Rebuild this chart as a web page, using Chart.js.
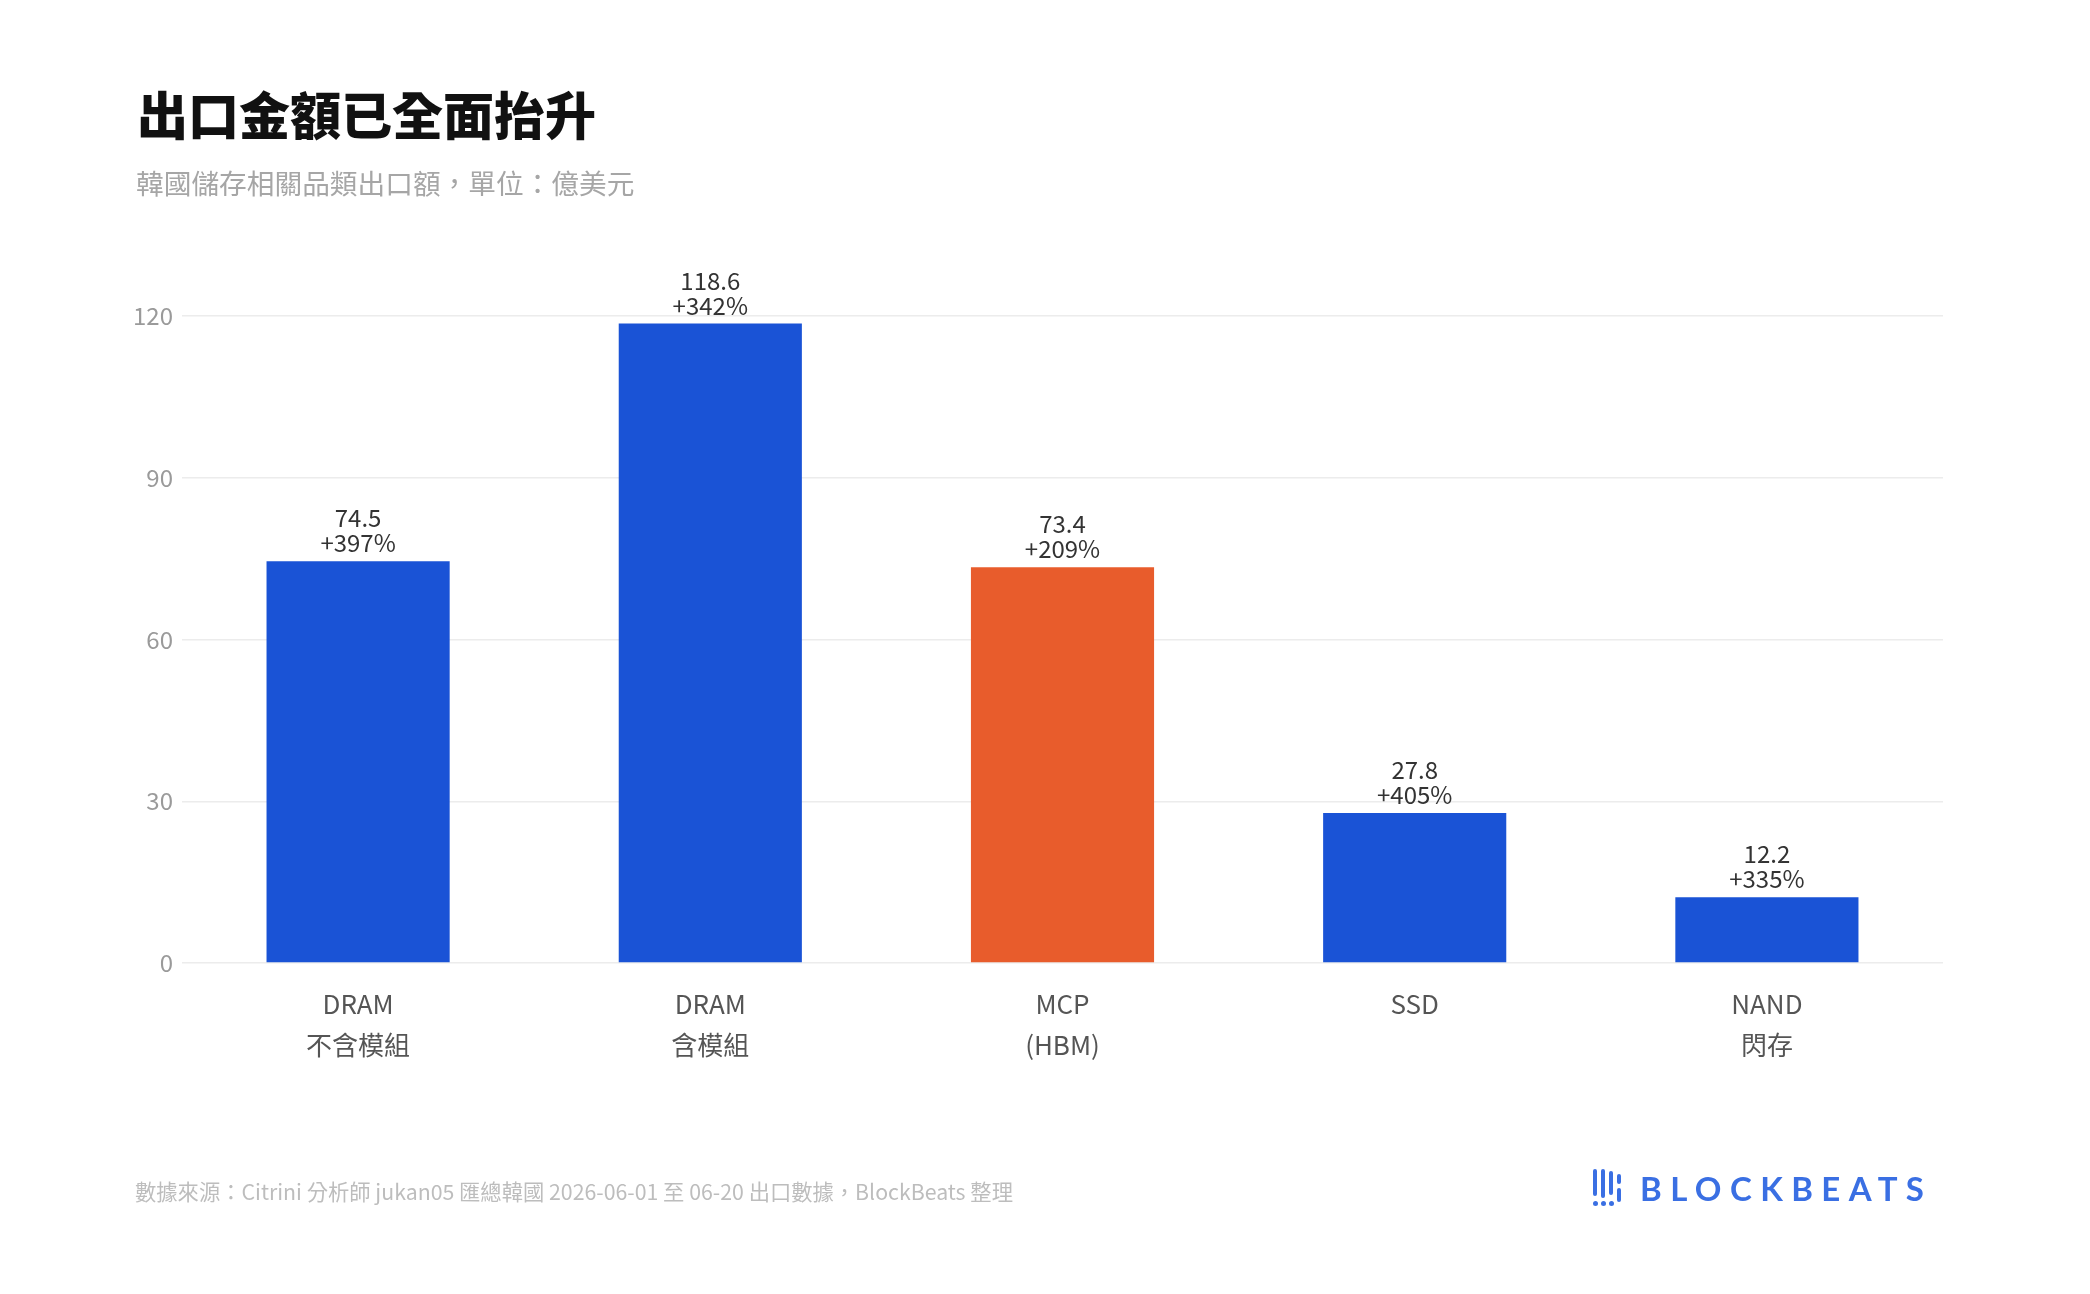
<!DOCTYPE html>
<html><head><meta charset="utf-8">
<script src="https://cdn.jsdelivr.net/npm/chart.js@4.4.1/dist/chart.umd.min.js"></script>
<style>
html,body{margin:0;padding:0;background:#fff;width:2090px;height:1294px;overflow:hidden;font-family:"Noto Sans CJK TC","Noto Sans",sans-serif;}
#cv{position:absolute;left:0;top:0;width:2090px;height:1294px;}
.txt{position:absolute;white-space:nowrap;z-index:2;}
#title{left:137px;top:77px;font-size:51px;line-height:72px;font-weight:900;color:#111;}
#subtitle{left:136px;top:164px;font-size:27.7px;line-height:36px;color:#a6a6a6;}
#footer{left:135px;top:1177px;font-size:21.3px;line-height:28px;color:#bdbdbd;}
#logo{position:absolute;left:1592px;top:1166px;width:360px;height:44px;z-index:2;}
#logo .bar{position:absolute;background:#3a6fe3;border-radius:2px;width:4px;}
#logo .dot{position:absolute;background:#3a6fe3;border-radius:50%;width:5px;height:5px;}
#logoText{position:absolute;left:48px;top:0;font-family:Lato,"DejaVu Sans",sans-serif;font-weight:700;font-size:33px;line-height:44px;letter-spacing:8.4px;color:#3a6fe3;}
</style></head>
<body>
<div id="cv"><canvas id="chart" width="2090" height="1294"></canvas></div>
<div class="txt" id="title">出口金額已全面抬升</div>
<div class="txt" id="subtitle">韓國儲存相關品類出口額，單位：億美元</div>
<div class="txt" id="footer">數據來源：Citrini 分析師 jukan05 匯總韓國 2026-06-01 至 06-20 出口數據，BlockBeats 整理</div>
<div id="logo">
  <div class="bar" style="left:1px;top:3px;height:27px"></div><div class="dot" style="left:1px;top:35px"></div>
  <div class="bar" style="left:9px;top:3px;height:29px"></div><div class="dot" style="left:9px;top:35px"></div>
  <div class="bar" style="left:17px;top:5px;height:24px"></div><div class="dot" style="left:17px;top:35px"></div>
  <div class="bar" style="left:25px;top:8px;height:10px"></div><div class="bar" style="left:25px;top:22px;height:14px"></div>
  <div id="logoText">BLOCKBEATS</div>
</div>
<script>
const categories = [['DRAM','不含模組'],['DRAM','含模組'],['MCP','(HBM)'],['SSD'],['NAND','閃存']];
const exportValues = [74.5,118.6,73.4,27.8,12.2];
const growthLabels = ['+397%','+342%','+209%','+405%','+335%'];
const highlightIndex = 2;
const yMin = 0, yMax = 120, yStep = 30;

const BLUE = '#1a53d6', ORANGE = '#e85c2c';
const FONT = '"Noto Sans CJK TC","Noto Sans",sans-serif';

const labelPlugin = {
  id:'barLabels',
  afterDatasetsDraw(chart){
    const ctx = chart.ctx;
    const meta = chart.getDatasetMeta(0);
    ctx.save();
    ctx.fillStyle = '#333';
    ctx.font = '24px ' + FONT;
    ctx.textAlign = 'center';
    ctx.textBaseline = 'middle';
    meta.data.forEach((bar,i)=>{
      ctx.fillText(exportValues[i].toFixed(1), bar.x, bar.y - 43);
      ctx.fillText(growthLabels[i], bar.x, bar.y - 18);
    });
    ctx.restore();
  }
};

new Chart(document.getElementById('chart'), {
  type:'bar',
  data:{
    labels: categories,
    datasets:[{
      data: exportValues,
      backgroundColor: ctx => ctx.dataIndex === highlightIndex ? ORANGE : BLUE,
      borderWidth:0,
      barPercentage:0.52,
      categoryPercentage:1
    }]
  },
  options:{
    responsive:false,
    animation:false,
    devicePixelRatio:1,
    layout:{padding:{left:0,top:316,right:147,bottom:211}},
    plugins:{legend:{display:false},tooltip:{enabled:false}},
    scales:{
      y:{
        min:yMin,max:yMax,
        ticks:{stepSize:yStep,color:'#9a9a9a',font:{family:FONT,size:24},padding:9},
        grid:{color:'#ececec',lineWidth:1.5,drawTicks:false},
        border:{display:false},
        afterFit(s){ s.width = 182; }
      },
      x:{
        ticks:{color:'#555',font:{family:FONT,size:26,lineHeight:1.58},padding:21,maxRotation:0,autoSkip:false},
        grid:{display:false,drawTicks:false},
        border:{display:false},
        afterFit(s){ s.height = 120; }
      }
    }
  },
  plugins:[labelPlugin]
});
</script>
</body></html>
